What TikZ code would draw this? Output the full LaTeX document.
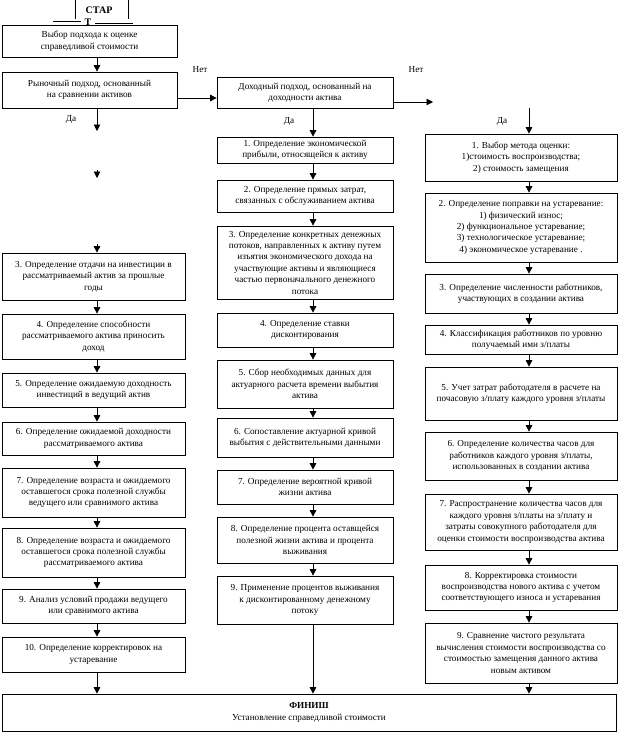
\documentclass[tikz,border=0pt]{standalone}
\usepackage{fontspec}
\setmainfont{Liberation Serif}
\usepackage{tikz}
\usetikzlibrary{arrows.meta,calc}
\usepackage{xcolor}
\definecolor{ink}{RGB}{0,0,0}
\tikzset{
  fcbox/.style={draw=ink,line width=0.7pt,align=center,inner sep=0pt,
    font=\fontsize{9.2}{11.4}\selectfont},
  lbox/.style={fcbox,minimum width=183pt},
  mbox/.style={fcbox,minimum width=176pt},
  rbox/.style={fcbox,minimum width=192pt},
  fcarr/.style={ink,line width=0.7pt,-{Triangle[width=6.5pt,length=6.5pt]}},
  fcline/.style={ink,line width=0.7pt},
  fclbl/.style={font=\fontsize{9.2}{11.4}\selectfont},
}
\begin{document}
\begin{tikzpicture}[x=1pt,y=-1pt]
  \useasboundingbox (0,0) rectangle (618,734);
  \coordinate (colL) at (97,0);
  \coordinate (colM) at (313,0);
  \coordinate (colR) at (529,0);
  \coordinate (rowA) at (0,98);
  \coordinate (rowB) at (0,102);
  \coordinate (noEnd) at (433,102);
  \coordinate (topR) at (529,108);
  \coordinate (gapA) at (97,131);
  \coordinate (gapB1) at (97,170);
  \coordinate (gapB2) at (97,178);
  \coordinate (gapC) at (97,244);
  % start
  \draw[fcline] (75,0) -- (75,19);
  \draw[fcline] (128,0) -- (128,19);
  \draw[fcline] (53,21) -- (81,21);
  \draw[fcline] (95,23) -- (133,23);
  \node[font=\bfseries\fontsize{10}{12}\selectfont] (start) at (99,10) {СТАР};
  \node[font=\bfseries\fontsize{10}{12}\selectfont] (startT) at (88,22) {Т};
  % left column
  \node[fcbox,minimum width=175pt,minimum height=32pt] (choose) at (89.5,41)
    {Выбор подхода к оценке\\справедливой стоимости};
  \node[fcbox,minimum width=175pt,minimum height=36pt] (ryn) at (89.5,90)
    {Рыночный подход, основанный\\на сравнении активов};
  \node[lbox,minimum height=47pt] (l3) at (93.5,276.5)
    {3. Определение отдачи на инвестиции в\\рассматриваемый актив за прошлые\\годы};
  \node[lbox,minimum height=45pt] (l4) at (93.5,336.5)
    {4. Определение способности\\рассматриваемого актива приносить\\доход};
  \node[lbox,minimum height=34pt] (l5) at (93.5,390)
    {5. Определение ожидаемую доходность\\инвестиций в ведущий актив};
  \node[lbox,minimum height=33pt] (l6) at (93.5,438.5)
    {6. Определение ожидаемой доходности\\рассматриваемого актива};
  \node[lbox,minimum height=49pt] (l7) at (93.5,492.5)
    {7. Определение возраста и ожидаемого\\оставшегося срока полезной службы\\ведущего или сравнимого актива};
  \node[lbox,minimum height=49pt] (l8) at (93.5,552.5)
    {8. Определение возраста и ожидаемого\\оставшегося срока полезной службы\\рассматриваемого актива};
  \node[lbox,minimum height=34pt] (l9) at (93.5,606)
    {9. Анализ условий продажи ведущего\\или сравнимого актива};
  \node[lbox,minimum height=35pt] (l10) at (93.5,654.5)
    {10. Определение корректировок на\\устаревание};
  % middle column
  \node[mbox,minimum height=31pt] (dokh) at (305,92.5)
    {Доходный подход, основанный на\\доходности актива};
  \node[mbox,minimum height=26pt] (m1) at (305,150)
    {1. Определение экономической\\прибыли, относящейся к активу};
  \node[mbox,minimum height=32pt] (m2) at (305,196)
    {2. Определение прямых затрат,\\связанных с обслуживанием актива};
  \node[mbox,minimum height=73pt] (m3) at (305,262.5)
    {3. Определение конкретных денежных\\потоков, направленных к активу путем\\изъятия экономического дохода на\\участвующие активы и являющиеся\\частью первоначального денежного\\потока};
  \node[mbox,minimum height=34pt] (m4) at (305,330)
    {4. Определение ставки\\дисконтирования};
  \node[mbox,minimum height=48pt] (m5) at (305,384)
    {5. Сбор необходимых данных для\\актуарного расчета времени выбытия\\актива};
  \node[mbox,minimum height=39pt] (m6) at (305,437.5)
    {6. Сопоставление актуарной кривой\\выбытия с действительными данными};
  \node[mbox,minimum height=34pt] (m7) at (305,487)
    {7. Определение вероятной кривой\\жизни актива};
  \node[mbox,minimum height=46pt] (m8) at (305,540)
    {8. Определение процента оставщейся\\полезной жизни актива и процента\\выживания};
  \node[mbox,minimum height=48pt] (m9) at (305,600)
    {9. Применение процентов выживания\\к дисконтированному денежному\\потоку};
  % right column
  \node[rbox,minimum height=47pt] (r1) at (521,157.5)
    {1. Выбор метода оценки:\\1)стоимость воспроизводства;\\2) стоимость замещения};
  \node[rbox,minimum height=69pt] (r2) at (521,227.5)
    {2. Определение поправки на устаревание:\\1) физический износ;\\2) функциональное устаревание;\\3) технологическое устаревание;\\4) экономическое устаревание .};
  \node[rbox,minimum height=39pt] (r3) at (521,293.5)
    {3. Определение численности работников,\\участвующих в создании актива};
  \node[rbox,minimum height=29pt] (r4) at (521,339.5)
    {4. Классификация работников по уровню\\получаемый ими з/платы};
  \node[rbox,minimum height=53pt] (r5) at (521,393.5)
    {5. Учет затрат работодателя в расчете на\\почасовую з/плату каждого уровня з/платы};
  \node[rbox,minimum height=48pt] (r6) at (521,456)
    {6. Определение количества часов для\\работников каждого уровня з/платы,\\использованных в создании актива};
  \node[rbox,minimum height=56pt] (r7) at (521,522)
    {7. Распространение количества часов для\\каждого уровня з/платы на з/плату и\\затраты совокупного работодателя для\\оценки стоимости воспроизводства актива};
  \node[rbox,minimum height=45pt] (r8) at (521,587.5)
    {8. Корректировка стоимости\\воспроизводства нового актива с учетом\\соответствующего износа и устаревания};
  \node[rbox,minimum height=60pt] (r9) at (521,653)
    {9. Сравнение чистого результата\\вычисления стоимости воспроизводства со\\стоимостью замещения данного актива\\новым активом};
  % finish
  \node[fcbox,minimum width=614pt,minimum height=37pt] (finish) at (309,712.5)
    {\textbf{ФИНИШ}\\Установление справедливой стоимости};
  % labels
  \node[fclbl] (netA) at (200,70) {Нет};
  \node[fclbl] (netB) at (416,70) {Нет};
  \node[fclbl] (daL) at (71,119) {Да};
  \node[fclbl] (daM) at (289,121) {Да};
  \node[fclbl] (daR) at (502,121) {Да};
  % connectors
  \draw[fcarr] (choose.south -| colL) -- (ryn.north -| colL);
  \draw[fcarr] (ryn.east |- rowA) -- (dokh.west |- rowA);
  \draw[fcarr] (dokh.east |- rowB) -- (noEnd);
  \draw[fcarr] (ryn.south -| colL) -- (gapA);
  \draw[fcarr] (gapB1) -- (gapB2);
  \draw[fcarr] (gapC) -- (l3.north -| colL);
  \draw[fcarr] (dokh.south -| colM) -- (m1.north -| colM);
  \draw[fcarr] (topR) -- (r1.north -| colR);
  \foreach \a/\b in {l3/l4,l4/l5,l5/l6,l6/l7,l7/l8,l8/l9,l9/l10,l10/finish}
    \draw[fcarr] (\a.south -| colL) -- (\b.north -| colL);
  \foreach \a/\b in {m1/m2,m2/m3,m3/m4,m4/m5,m5/m6,m6/m7,m7/m8,m8/m9,m9/finish}
    \draw[fcarr] (\a.south -| colM) -- (\b.north -| colM);
  \foreach \a/\b in {r1/r2,r2/r3,r3/r4,r4/r5,r5/r6,r6/r7,r7/r8,r8/r9,r9/finish}
    \draw[fcarr] (\a.south -| colR) -- (\b.north -| colR);
\end{tikzpicture}
\end{document}
